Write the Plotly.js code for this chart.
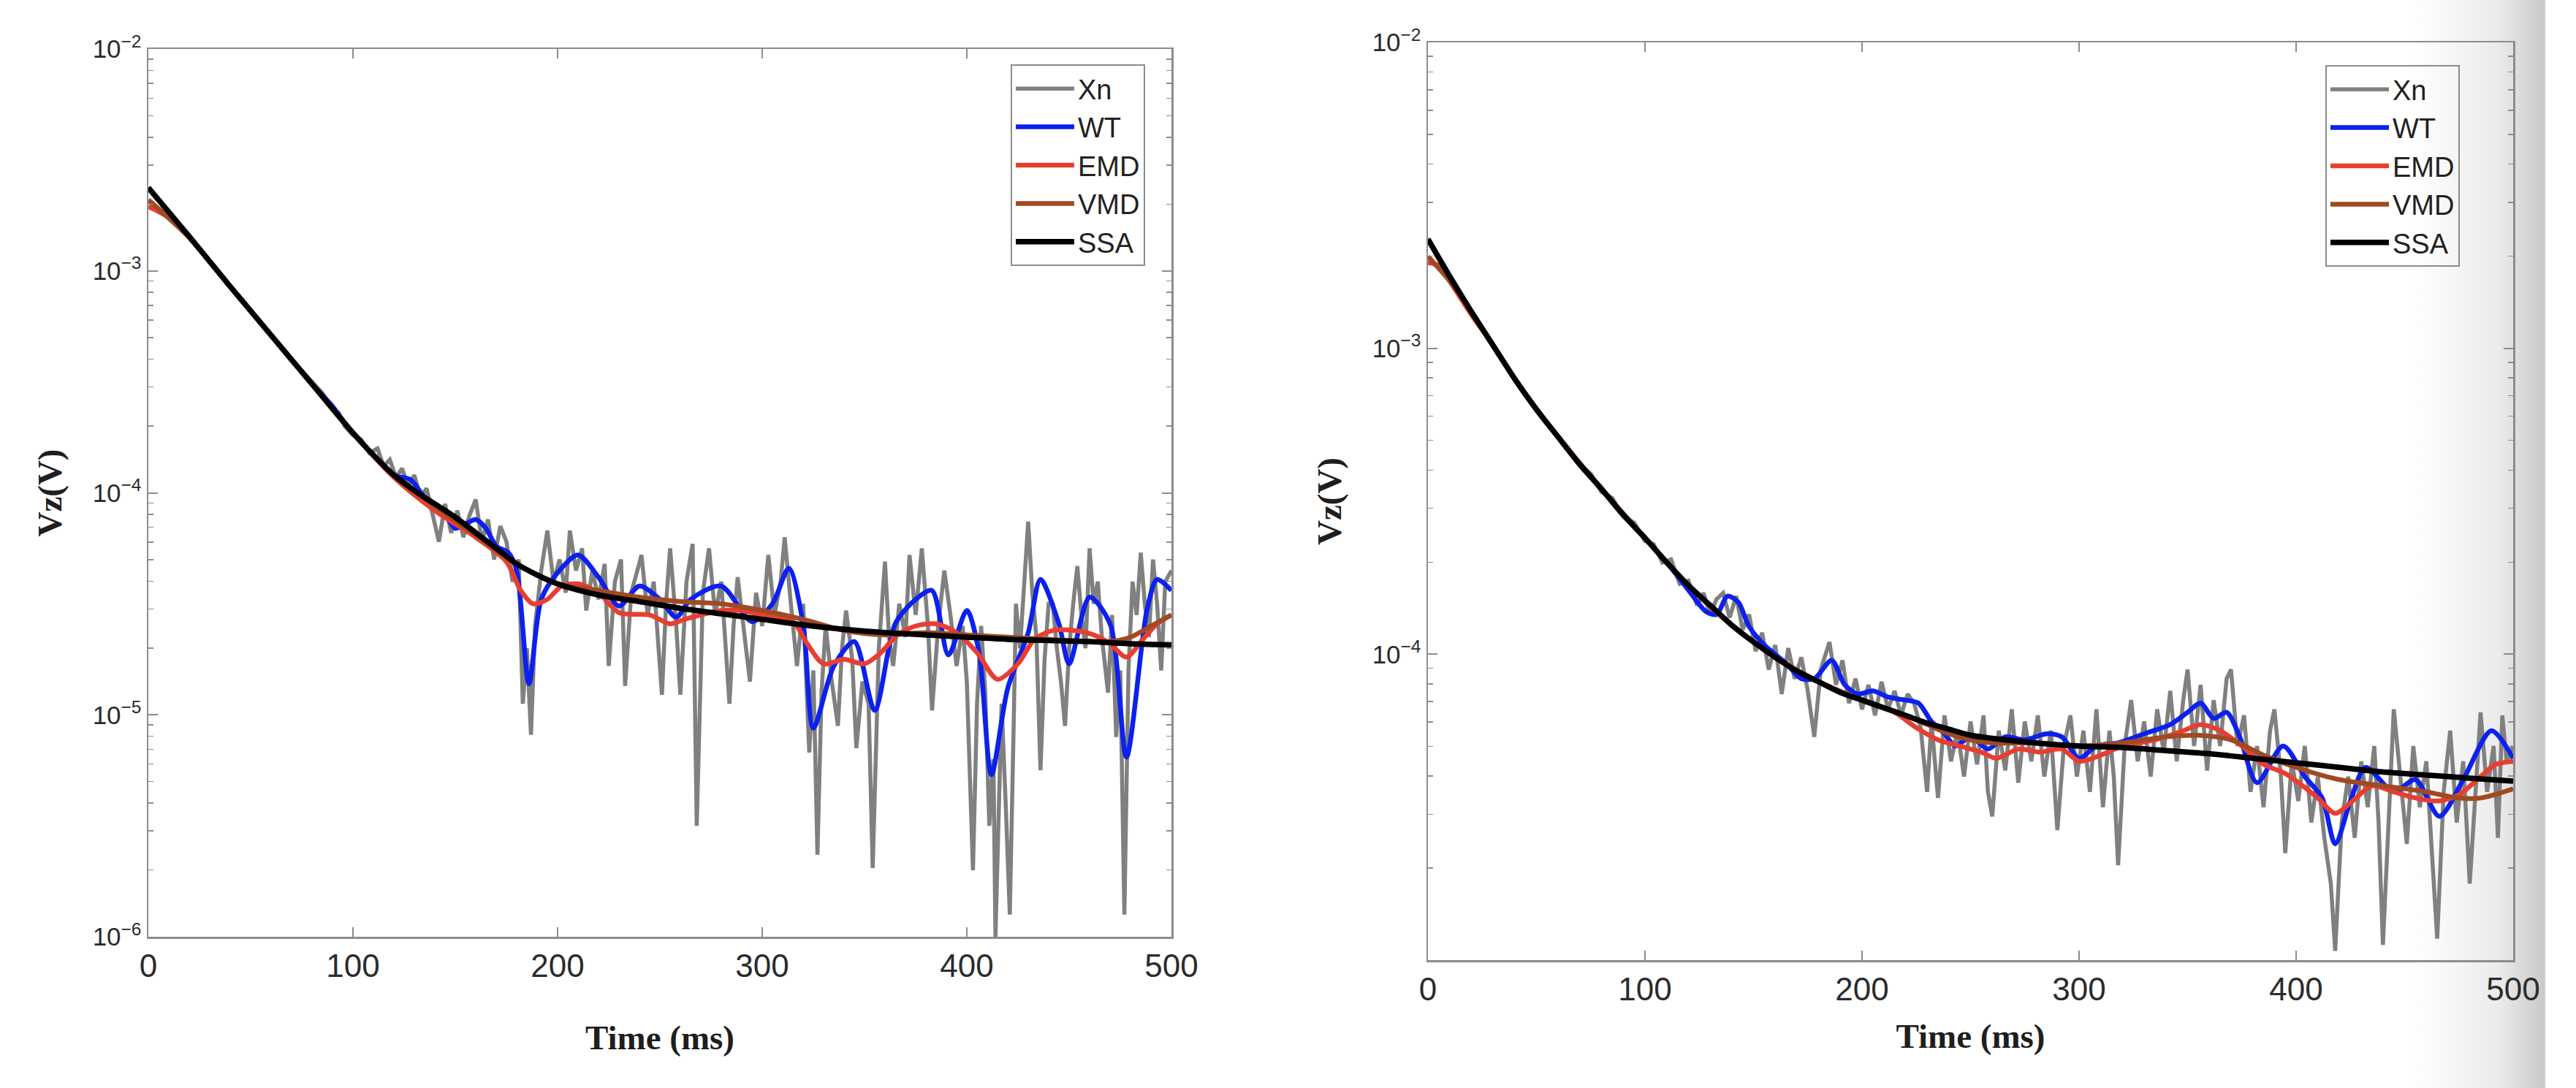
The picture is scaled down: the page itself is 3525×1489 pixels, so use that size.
<!DOCTYPE html>
<html><head><meta charset="utf-8">
<script src="https://cdn.plot.ly/plotly-3.0.1.min.js"></script>
<style>
html,body{margin:0;padding:0;background:#fff;}
#chart{width:3525px;height:1489px;background:linear-gradient(to right,#fff 0px,#fff 3300px,#ebebeb 3420px,#c9c9c9 3482px,#fff 3484px,#fff 3525px);}
</style></head><body><div id="chart"></div><script>
// ---------- tick labels ----------
const xTickVals = [0,100,200,300,400,500];
const yTickValsL = [1e-6,1e-5,1e-4,1e-3,1e-2];
const yTickTextL = ['10<sup>−6</sup>','10<sup>−5</sup>','10<sup>−4</sup>','10<sup>−3</sup>','10<sup>−2</sup>'];
const yTickValsR = [1e-4,1e-3,1e-2];
const yTickTextR = ['10<sup>−4</sup>','10<sup>−3</sup>','10<sup>−2</sup>'];
const seriesNames = ['Xn','WT','EMD','VMD','SSA'];

// ---------- LEFT panel (values stored as log10 of Vz) ----------
const tXnL = [0,10,20,30,40,50,60,70,80,85,90,93,96,100,104,108,112,115,118,121,124,127,130,133,136,139,142,145,148,151,154,157,160,163,166,169,172,175,178,181,183,185,187,189,192,195,198,201,204,206,209,212,214,217,220,223,225,228,231,233,236,239,241,244,247,251,253,255,258,260,263,266,268,271,274,277,280,284,286,288,291,294,297,300,303,306,309,311,314,317,320,323,325,327,329,331,334,337,339,341,344,346,349,352,354,357,360,362,364,367,370,372,375,378,381,383,386,389,392,395,398,400,403,405,407,409,411,413,414,416,417,419,421,423,424,426,428,430,432,434,436,438,440,442,444,446,448,450,452,454,456,458,460,462,464,466,469,471,473,475,477,479,481,483,485,487,489,491,493,495,497,500];
const xnLogL = [-2.63,-2.73,-2.85,-2.96,-3.07,-3.18,-3.29,-3.40,-3.50,-3.55,-3.62,-3.64,-3.70,-3.74,-3.76,-3.82,-3.80,-3.88,-3.85,-3.93,-3.89,-3.97,-3.92,-4.02,-3.98,-4.10,-4.22,-4.05,-4.18,-4.08,-4.20,-4.10,-4.03,-4.22,-4.12,-4.30,-4.15,-4.22,-4.40,-4.30,-4.95,-4.70,-5.09,-4.60,-4.35,-4.17,-4.40,-4.30,-4.45,-4.17,-4.35,-4.25,-4.53,-4.35,-4.48,-4.32,-4.78,-4.40,-4.30,-4.87,-4.45,-4.35,-4.28,-4.55,-4.40,-4.91,-4.50,-4.25,-4.60,-4.91,-4.40,-4.23,-5.50,-4.45,-4.25,-4.55,-4.40,-4.95,-4.60,-4.38,-4.60,-4.85,-4.45,-4.60,-4.28,-4.55,-4.40,-4.20,-4.50,-4.78,-4.50,-5.17,-4.80,-5.63,-4.90,-4.60,-4.85,-5.05,-4.70,-4.53,-4.75,-5.15,-4.85,-4.95,-5.69,-4.70,-4.31,-4.65,-4.78,-4.50,-4.65,-4.28,-4.55,-4.25,-4.60,-4.98,-4.60,-4.35,-4.55,-4.78,-4.60,-4.85,-5.70,-4.95,-4.60,-4.90,-5.50,-5.20,-6.0,-5.30,-4.95,-5.40,-5.90,-5.00,-4.50,-4.70,-4.40,-4.13,-4.45,-4.65,-5.25,-4.75,-4.50,-4.50,-4.70,-4.85,-5.05,-4.70,-4.50,-4.33,-4.55,-4.70,-4.25,-4.50,-4.40,-4.65,-4.90,-4.55,-5.10,-4.80,-5.90,-4.80,-4.40,-4.55,-4.27,-4.50,-4.65,-4.30,-4.50,-4.80,-4.40,-4.35];

const tWtL = [0,20,40,60,80,90,94,100,110,120,128,135,145,150,155,160,165,170,176,180,186,192,200,210,220,230,240,250,258,265,280,295,305,313,320,325,335,345,355,365,375,383,391,400,406,412,420,430,436,445,450,460,470,478,488,493,500];
const wtLogL = [-2.625,-2.845,-3.07,-3.29,-3.51,-3.61,-3.66,-3.73,-3.83,-3.92,-3.94,-4.02,-4.10,-4.16,-4.14,-4.12,-4.16,-4.24,-4.27,-4.35,-4.86,-4.48,-4.36,-4.28,-4.38,-4.51,-4.42,-4.48,-4.56,-4.48,-4.42,-4.58,-4.50,-4.34,-4.59,-5.06,-4.78,-4.67,-4.98,-4.59,-4.48,-4.44,-4.73,-4.53,-4.72,-5.27,-4.88,-4.63,-4.39,-4.59,-4.77,-4.47,-4.59,-5.19,-4.53,-4.39,-4.44];

const tEmdL = [0,10,20,40,60,80,100,120,140,160,175,182,188,195,202,210,220,230,245,255,262,270,280,290,300,315,322,330,340,350,358,366,375,385,395,405,415,425,433,442,452,462,470,478,486,493,500];
const emdLogL = [-2.71,-2.76,-2.85,-3.07,-3.29,-3.51,-3.73,-3.93,-4.08,-4.20,-4.31,-4.44,-4.50,-4.48,-4.42,-4.41,-4.45,-4.54,-4.55,-4.59,-4.57,-4.55,-4.53,-4.53,-4.55,-4.58,-4.68,-4.77,-4.75,-4.77,-4.72,-4.64,-4.60,-4.59,-4.63,-4.72,-4.84,-4.77,-4.66,-4.62,-4.62,-4.64,-4.68,-4.74,-4.66,-4.59,-4.55];

const tVmdL = [0,20,40,60,80,100,120,140,160,180,200,220,240,260,280,300,320,340,360,380,400,420,440,460,470,480,490,500];
const vmdLogL = [-2.68,-2.85,-3.07,-3.29,-3.51,-3.73,-3.92,-4.06,-4.19,-4.32,-4.41,-4.44,-4.47,-4.49,-4.50,-4.53,-4.57,-4.62,-4.64,-4.63,-4.64,-4.65,-4.66,-4.67,-4.67,-4.65,-4.60,-4.55];

const tSsaL = [0,20,40,60,80,100,110,120,130,140,150,160,170,180,190,200,220,240,260,280,300,320,340,360,380,400,420,440,460,480,500];
const ssaLogL = [-2.625,-2.845,-3.07,-3.29,-3.51,-3.73,-3.83,-3.92,-3.99,-4.05,-4.11,-4.18,-4.25,-4.32,-4.37,-4.41,-4.46,-4.49,-4.52,-4.545,-4.57,-4.595,-4.615,-4.63,-4.64,-4.65,-4.66,-4.665,-4.67,-4.68,-4.685];

// ---------- RIGHT panel (values stored as log10 of Vz) ----------
const tXnR = [0,10,20,30,40,50,60,70,75,80,85,90,95,100,104,108,112,116,120,124,127,130,133,136,139,142,145,148,151,154,157,160,163,166,169,172,175,178,181,185,188,191,194,197,200,203,206,209,212,215,218,221,224,227,230,232,235,238,241,244,247,250,253,256,258,260,263,266,269,272,275,278,281,284,287,290,293,296,299,302,305,308,311,314,316,318,321,324,327,330,333,336,339,342,345,348,350,353,356,359,362,365,368,370,373,376,379,382,385,388,390,393,395,398,401,404,407,410,413,416,418,421,424,427,430,433,436,438,440,443,445,448,451,454,457,460,463,465,468,471,474,477,480,483,485,488,491,493,495,497,500];
const xnLogR = [-2.643,-2.765,-2.88,-2.99,-3.10,-3.20,-3.29,-3.38,-3.41,-3.47,-3.49,-3.55,-3.57,-3.63,-3.64,-3.70,-3.69,-3.77,-3.76,-3.84,-3.80,-3.87,-3.82,-3.80,-3.88,-3.81,-3.92,-3.87,-3.99,-3.93,-4.05,-3.97,-4.13,-3.98,-4.08,-4.01,-4.12,-4.27,-4.05,-3.96,-4.10,-4.02,-4.16,-4.08,-4.18,-4.10,-4.20,-4.09,-4.18,-4.12,-4.20,-4.13,-4.16,-4.24,-4.45,-4.22,-4.47,-4.20,-4.35,-4.25,-4.40,-4.22,-4.36,-4.20,-4.45,-4.53,-4.25,-4.38,-4.18,-4.42,-4.22,-4.35,-4.20,-4.40,-4.25,-4.575,-4.30,-4.20,-4.40,-4.25,-4.45,-4.18,-4.50,-4.25,-4.40,-4.69,-4.30,-4.15,-4.35,-4.22,-4.40,-4.18,-4.32,-4.12,-4.35,-4.15,-4.05,-4.30,-4.10,-4.38,-4.15,-4.30,-4.08,-4.05,-4.30,-4.20,-4.45,-4.30,-4.50,-4.25,-4.18,-4.40,-4.65,-4.35,-4.48,-4.30,-4.55,-4.40,-4.60,-4.75,-4.97,-4.55,-4.40,-4.60,-4.35,-4.50,-4.30,-4.55,-4.95,-4.45,-4.18,-4.40,-4.62,-4.30,-4.50,-4.35,-4.70,-4.93,-4.45,-4.25,-4.55,-4.35,-4.75,-4.40,-4.19,-4.45,-4.30,-4.60,-4.20,-4.35,-4.30];

const tWtR = [0,20,40,60,80,100,110,120,128,133,138,143,148,155,165,172,178,186,192,198,205,212,220,226,232,238,243,250,258,266,275,285,292,300,308,318,330,342,350,356,362,368,374,382,394,404,412,418,425,432,445,455,466,477,490,500];
const wtLogR = [-2.643,-2.88,-3.10,-3.29,-3.46,-3.62,-3.70,-3.79,-3.86,-3.87,-3.81,-3.83,-3.91,-3.97,-4.03,-4.08,-4.08,-4.02,-4.10,-4.13,-4.12,-4.14,-4.15,-4.16,-4.22,-4.26,-4.30,-4.27,-4.31,-4.27,-4.28,-4.26,-4.27,-4.34,-4.30,-4.29,-4.26,-4.23,-4.19,-4.16,-4.21,-4.19,-4.27,-4.42,-4.30,-4.40,-4.47,-4.62,-4.48,-4.37,-4.45,-4.41,-4.53,-4.41,-4.25,-4.34];

const tEmdR = [0,5,10,20,30,40,60,80,100,120,140,160,180,200,215,225,235,245,255,262,272,282,292,300,310,320,335,348,356,365,375,385,395,403,410,418,426,435,445,455,465,475,485,492,500];
const emdLogR = [-2.72,-2.73,-2.78,-2.89,-2.99,-3.10,-3.29,-3.46,-3.62,-3.775,-3.905,-4.01,-4.09,-4.15,-4.19,-4.24,-4.28,-4.30,-4.32,-4.34,-4.31,-4.32,-4.31,-4.35,-4.33,-4.30,-4.28,-4.25,-4.23,-4.25,-4.30,-4.36,-4.39,-4.43,-4.47,-4.52,-4.48,-4.43,-4.45,-4.47,-4.48,-4.46,-4.40,-4.36,-4.35];

const tVmdR = [0,10,20,40,60,80,100,120,140,160,180,200,220,230,240,250,260,280,300,320,340,355,370,385,400,420,440,460,475,485,500];
const vmdLogR = [-2.70,-2.78,-2.88,-3.10,-3.29,-3.46,-3.62,-3.775,-3.905,-4.01,-4.09,-4.15,-4.20,-4.23,-4.26,-4.28,-4.29,-4.29,-4.30,-4.29,-4.27,-4.265,-4.28,-4.33,-4.37,-4.41,-4.43,-4.45,-4.47,-4.47,-4.44];

const tSsaR = [0,10,20,30,40,50,60,70,80,90,100,110,120,130,140,150,160,170,180,190,200,210,220,230,240,250,260,280,300,320,340,360,380,400,420,440,460,480,500];
const ssaLogR = [-2.643,-2.765,-2.88,-2.99,-3.10,-3.20,-3.29,-3.38,-3.46,-3.545,-3.62,-3.70,-3.775,-3.84,-3.905,-3.96,-4.01,-4.055,-4.09,-4.125,-4.15,-4.175,-4.20,-4.225,-4.245,-4.265,-4.275,-4.29,-4.30,-4.305,-4.315,-4.325,-4.34,-4.355,-4.37,-4.385,-4.395,-4.405,-4.415];

// ---------- styles ----------
const colors = {Xn:'rgb(128,128,128)', WT:'rgb(12,32,238)', EMD:'rgb(232,62,50)', VMD:'rgb(160,74,34)', SSA:'rgb(0,0,0)'};
const widths = {Xn:5.5, WT:6.5, EMD:6.5, VMD:6.5, SSA:7.5};
const toV = a => a.map(v => Math.pow(10, v));

function mk(name, t, lg, xa, ya, leg){
  return {
    type:'scatter', mode:'lines', name:name,
    x:t, y:toV(lg), xaxis:xa, yaxis:ya, legend:leg,
    line:{color:colors[name], width:widths[name], shape: name==='Xn' ? 'linear' : 'spline', smoothing:0.8},
    hoverinfo:'skip'
  };
}
const traces = [
  mk('Xn', tXnL, xnLogL, 'x','y','legend'),
  mk('WT', tWtL, wtLogL, 'x','y','legend'),
  mk('EMD', tEmdL, emdLogL, 'x','y','legend'),
  mk('VMD', tVmdL, vmdLogL, 'x','y','legend'),
  mk('SSA', tSsaL, ssaLogL, 'x','y','legend'),
  mk('Xn', tXnR, xnLogR, 'x2','y2','legend2'),
  mk('WT', tWtR, wtLogR, 'x2','y2','legend2'),
  mk('EMD', tEmdR, emdLogR, 'x2','y2','legend2'),
  mk('VMD', tVmdR, vmdLogR, 'x2','y2','legend2'),
  mk('SSA', tSsaR, ssaLogR, 'x2','y2','legend2')
];

const W = 3525, H = 1489;
function minorTicks(d0, d1){
  const out = [];
  for (let d = d0; d < d1; d++) for (let m = 2; m <= 9; m++) out.push(m * Math.pow(10, d));
  return out;
}
const AX_COLOR = '#8c8c8c';
const tickFontX = {family:'Liberation Sans, Arial, sans-serif', size:44, color:'#2b2b2b'};
const tickFontY = {family:'Liberation Sans, Arial, sans-serif', size:35, color:'#2b2b2b'};
const titleFont = {family:'Liberation Serif, Times New Roman, serif', size:47, color:'#1e1e1e', weight:'bold'};
const common = {showline:true, linecolor:AX_COLOR, linewidth:2.5, mirror:'ticks', ticks:'inside', ticklen:13, tickwidth:2, tickcolor:AX_COLOR, showgrid:false, zeroline:false};

function xAxis(domain, anchor, standoff){
  return Object.assign({}, common, {domain:domain, anchor:anchor, range:[0,500], tickmode:'array', tickvals:xTickVals, tickfont:tickFontX,
    title:{text:'Time (ms)', font:titleFont, standoff:standoff}});
}
function yAxis(domain, anchor, rng, tv, tt){
  return Object.assign({}, common, {domain:domain, anchor:anchor, type:'log', range:rng, tickmode:'array', tickvals:tv, ticktext:tt, tickfont:tickFontY,
    minor:{ticks:'inside', ticklen:7, tickwidth:1.5, tickcolor:AX_COLOR, tickmode:'array', tickvals:minorTicks(rng[0], rng[1]), showgrid:false},
    title:{text:'Vz(V)', font:titleFont, standoff:27}});
}
function legendAt(xpx, ypx, bg){
  return {x:xpx/W, y:1-ypx/H, xanchor:'left', yanchor:'top', xref:'paper', yref:'paper',
    bgcolor:bg, bordercolor:AX_COLOR, borderwidth:2, itemwidth:80,
    font:{family:'Liberation Sans, Arial, sans-serif', size:38, color:'#222'}};
}

const layout = {
  width:W, height:H, autosize:false,
  margin:{l:0, r:0, t:0, b:0},
  paper_bgcolor:'rgba(0,0,0,0)', plot_bgcolor:'rgba(0,0,0,0)',
  showlegend:true,
  xaxis: xAxis([203/W, 1603/W], 'y', 58),
  yaxis: yAxis([1-1282/H, 1-67/H], 'x', [-6,-2], yTickValsL, yTickTextL),
  xaxis2: xAxis([1954/W, 3439/W], 'y2', 24),
  yaxis2: yAxis([1-1314/H, 1-58/H], 'x2', [-5,-2], yTickValsR, yTickTextR),
  legend: legendAt(1383, 88, 'rgba(255,255,255,1)'),
  legend2: legendAt(3182, 89, 'rgba(255,255,255,0)')
};
Plotly.newPlot('chart', traces, layout, {staticPlot:true, displayModeBar:false});
</script></body></html>
